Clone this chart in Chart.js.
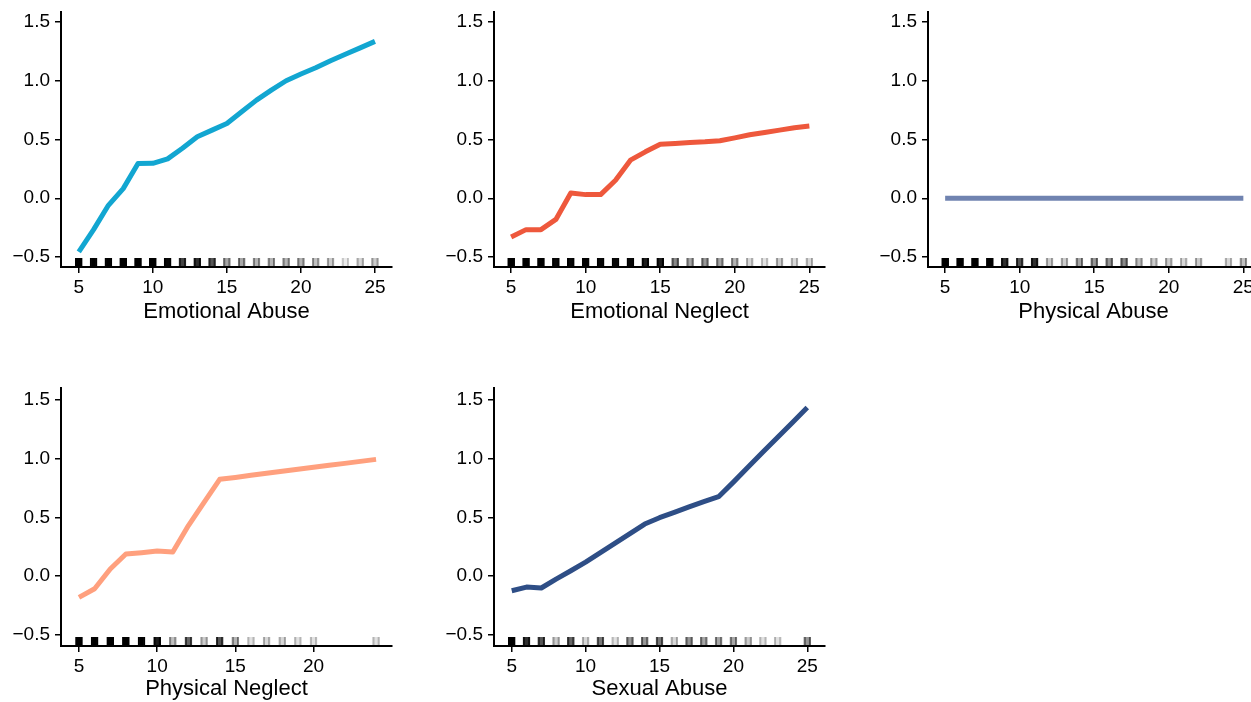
<!DOCTYPE html>
<html><head><meta charset="utf-8">
<script src="https://cdn.jsdelivr.net/npm/chart.js@4.4.1/dist/chart.umd.min.js"></script>
<style>
html,body{margin:0;padding:0;background:#fff;overflow:hidden;width:1251px;height:702px;position:relative;}
canvas{position:absolute;}
</style></head><body>
<canvas id="c1" width="400" height="340" style="left:0px;top:0px"></canvas>
<canvas id="c2" width="400" height="340" style="left:433px;top:0px"></canvas>
<canvas id="c3" width="400" height="340" style="left:867px;top:0px"></canvas>
<canvas id="c4" width="400" height="326" style="left:0px;top:376px"></canvas>
<canvas id="c5" width="400" height="326" style="left:433px;top:376px"></canvas>
<script>
// ---- data ----
const yTickValues = [-0.5, 0, 0.5, 1.0, 1.5];
const xTicksFull = [5, 10, 15, 20, 25];
const xTicksPN = [5, 10, 15, 20];

const eaX = [5,6,7,8,9,10,11,12,13,14,15,16,17,18,19,20,21,22,23,24,25];
const eaY = [-0.457,-0.267,-0.06,0.082,0.295,0.297,0.335,0.425,0.523,0.58,0.636,0.736,0.835,0.92,1.0,1.057,1.11,1.17,1.225,1.28,1.335];
const eaRugX = [5,6,7,8,9,10,11,12,13,14,15,16,17,18,19,20,21,22,23,24,25];
const eaRugA = [1,1,1,1,1,1,0.95,0.8,0.85,0.75,0.5,0.5,0.45,0.45,0.45,0.45,0.4,0.35,0.2,0.3,0.35];

const enX = [5,6,7,8,9,10,11,12,13,14,15,16,17,18,19,20,21,22,23,24,25];
const enY = [-0.33,-0.267,-0.267,-0.18,0.045,0.031,0.031,0.153,0.324,0.395,0.46,0.466,0.474,0.48,0.489,0.514,0.54,0.56,0.58,0.6,0.614];
const enRugX = [5,6,7,8,9,10,11,12,13,14,15,16,17,18,19,20,21,22,23,24,25];
const enRugA = [1,1,1,0.95,0.95,1,0.95,0.95,0.95,0.9,0.9,0.6,0.5,0.55,0.5,0.45,0.3,0.25,0.35,0.3,0.3];

const paX = [5,6,7,8,9,10,11,12,13,14,15,16,17,18,19,20,21,22,23,24,25];
const paY = [0,0,0,0,0,0,0,0,0,0,0,0,0,0,0,0,0,0,0,0,0];
const paRugX = [5,6,7,8,9,10,11,12,13,14,15,16,17,18,19,20,21,22,24,25];
const paRugA = [1,1,1,1,0.85,0.75,0.85,0.35,0.35,0.5,0.55,0.55,0.6,0.4,0.35,0.35,0.3,0.35,0.3,0.4];

const pnX = [5,6,7,8,9,10,11,12,13,14,15,16,17,18,19,20,21,22,23,24];
const pnY = [-0.182,-0.108,0.06,0.1875,0.199,0.213,0.205,0.43,0.628,0.824,0.84,0.858,0.875,0.892,0.909,0.926,0.943,0.96,0.977,0.994];
const pnRugX = [5,6,7,8,9,10,11,12,13,14,15,16,17,18,19,20,24];
const pnRugA = [1,1,1,1,1,0.9,0.4,0.7,0.35,0.75,0.45,0.25,0.3,0.3,0.25,0.25,0.25];

const saX = [5,6,7,8,9,10,11,12,13,14,15,16,17,18,19,20,21,22,23,24,25];
const saY = [-0.125,-0.094,-0.102,-0.026,0.045,0.119,0.2,0.281,0.362,0.443,0.497,0.543,0.59,0.634,0.676,0.80,0.929,1.056,1.182,1.309,1.435];
const saRugX = [5,6,7,8,9,10,11,12,13,14,15,16,17,18,19,20,21,22,23,25];
const saRugA = [1,0.85,0.75,0.35,0.7,0.3,0.65,0.25,0.55,0.55,0.65,0.3,0.55,0.5,0.5,0.5,0.35,0.25,0.25,0.55];

// ---- drawing ----
const FONT = "'Liberation Sans', Arial, Helvetica, sans-serif";
const fmtY = v => (v < 0 ? '\u2212' : '') + Math.abs(v).toFixed(1);

function panel(id, o) {
  const rugTop = o.yMin + 0.035 * (o.yMax - o.yMin);
  new Chart(document.getElementById(id), {
    type: 'line',
    data: {
      datasets: [
        {
          type: 'line',
          data: o.x.map((x, i) => ({x: x, y: o.y[i]})),
          borderColor: o.color, borderWidth: 5,
          pointRadius: 0, tension: 0, fill: false,
          borderCapStyle: 'butt', borderJoinStyle: 'round',
          order: 0
        },
        {
          type: 'bar',
          data: o.rugX.map(x => ({x: x, y: [o.yMin, rugTop]})),
          barThickness: 7,
          backgroundColor: c => 'rgba(0,0,0,' + Math.min(1, Math.pow(o.rugA[c.dataIndex], 1.6) * 1.05).toFixed(3) + ')',
          borderColor: c => 'rgba(0,0,0,' + Math.min(1, o.rugA[c.dataIndex] * 1.1).toFixed(3) + ')',
          borderWidth: {left: 1.5, right: 1.5, top: 0, bottom: 0},
          borderSkipped: false,
          order: 1
        }
      ]
    },
    options: {
      responsive: false, animation: false,
      layout: {padding: {top: 12, right: 8, left: 0, bottom: 0}},
      plugins: {legend: {display: false}, tooltip: {enabled: false}},
      scales: {
        x: {
          type: 'linear', min: o.xMin, max: o.xMax, offset: false,
          afterBuildTicks: s => { s.ticks = o.xTicks.map(v => ({value: v})); },
          afterFit: s => { s.height = o.axisH; s.paddingLeft = 0; s.paddingRight = 0; },
          grid: {display: true, offset: false, drawOnChartArea: false, drawTicks: true, tickLength: 6, color: '#000', lineWidth: 1.5},
          border: {display: true, color: '#000', width: 2},
          ticks: {color: '#000', font: {family: FONT, size: 19}, padding: 3, maxRotation: 0, autoSkip: false, callback: v => String(v)},
          title: {display: true, text: o.title, color: '#000', font: {family: FONT, size: 22}, padding: {top: 0, bottom: o.titlePad}}
        },
        y: {
          type: 'linear', min: o.yMin, max: o.yMax,
          afterBuildTicks: s => { s.ticks = yTickValues.map(v => ({value: v})); },
          afterFit: s => { s.width = 61; s.paddingTop = 0; s.paddingBottom = 0; },
          grid: {display: true, offset: false, drawOnChartArea: false, drawTicks: true, tickLength: 6, color: '#000', lineWidth: 1.5},
          border: {display: true, color: '#000', width: 2},
          ticks: {color: '#000', font: {family: FONT, size: 19}, padding: 5, autoSkip: false, callback: v => fmtY(v)}
        }
      }
    }
  });
}

const row1 = {yMin: -0.585, yMax: 1.585, axisH: 73, titlePad: 15};
const row2 = {yMin: -0.596, yMax: 1.602, axisH: 56, titlePad: 0};

panel('c1', Object.assign({}, row1, {x: eaX, y: eaY, rugX: eaRugX, rugA: eaRugA, color: '#12A6D1', title: 'Emotional Abuse', xMin: 3.8, xMax: 26.15, xTicks: xTicksFull}));
panel('c2', Object.assign({}, row1, {x: enX, y: enY, rugX: enRugX, rugA: enRugA, color: '#EE583C', title: 'Emotional Neglect', xMin: 3.85, xMax: 26.05, xTicks: xTicksFull}));
panel('c3', Object.assign({}, row1, {x: paX, y: paY, rugX: paRugX, rugA: paRugA, color: '#7083B0', title: 'Physical Abuse', xMin: 3.85, xMax: 26.05, xTicks: xTicksFull}));
panel('c4', Object.assign({}, row2, {x: pnX, y: pnY, rugX: pnRugX, rugA: pnRugA, color: '#FFA07E', title: 'Physical Neglect', xMin: 3.85, xMax: 25.02, xTicks: xTicksPN}));
panel('c5', Object.assign({}, row2, {x: saX, y: saY, rugX: saRugX, rugA: saRugA, color: '#2E4E86', title: 'Sexual Abuse', xMin: 3.8, xMax: 26.2, xTicks: xTicksFull}));
</script>
</body></html>
